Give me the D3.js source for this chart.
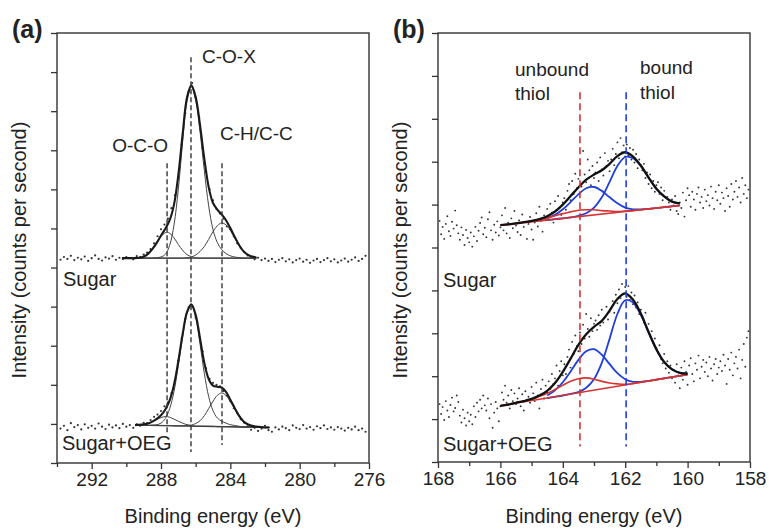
<!doctype html>
<html>
<head>
<meta charset="utf-8">
<title>XPS C 1s and S 2p spectra</title>
<script src="https://cdn.jsdelivr.net/npm/d3@7"></script>
<style>
  body { margin: 0; background: #fff; }
  svg text { font-family: "Liberation Sans", Arial, sans-serif; fill: #222; }
</style>
</head>
<body>
<div id="chart"></div>
<script>
// ---------- panel (a): C 1s ----------
var c1sTicks = [292, 288, 284, 280, 276];
var c1sMinorTicks = [294, 290, 286, 282, 278];
var c1sYTicks = [0, 1, 2, 3, 4, 5, 6, 7, 8, 9, 10, 11];

// measured points, 293.8 eV down to 276.2 eV, 0.2 eV step
var c1sDotStart = 293.8, c1sDotStep = 0.2;
var c1sSugarDots = [5.20,5.27,5.22,5.30,5.19,5.25,5.21,5.28,5.17,5.24,
  5.31,5.22,5.18,5.26,5.23,5.29,5.20,5.25,5.22,5.27,
  5.24,5.21,5.29,5.27,5.33,5.38,5.47,5.62,5.80,5.98,
  6.10,6.25,6.52,6.85,7.30,8.15,8.95,9.50,9.72,9.35,
  8.85,8.05,7.45,7.00,6.72,6.50,6.38,6.25,6.05,5.98,
  5.80,5.62,5.50,5.40,5.31,5.27,5.21,5.25,5.19,5.23,
  5.17,5.22,5.14,5.20,5.24,5.16,5.21,5.13,5.19,5.23,
  5.15,5.20,5.12,5.18,5.22,5.14,5.19,5.24,5.16,5.21,
  5.13,5.18,5.23,5.15,5.20,5.26,5.17,5.22,5.30];
var c1sOegDots = [0.88,0.95,0.84,1.02,0.92,0.97,0.86,0.99,0.90,0.95,
  0.88,1.01,0.93,0.87,0.98,0.91,0.96,0.89,1.00,0.93,
  0.97,0.90,0.99,0.95,1.03,1.02,1.10,1.18,1.24,1.33,
  1.45,1.55,1.78,2.10,2.62,3.18,3.68,3.98,4.00,3.72,
  3.30,2.85,2.42,2.15,2.05,2.00,1.96,1.84,1.72,1.58,
  1.40,1.28,1.12,1.03,0.94,0.85,0.90,0.82,0.88,0.95,
  0.84,0.80,0.91,0.86,0.93,0.89,0.84,0.96,0.90,0.87,
  0.97,0.88,0.92,0.85,0.94,0.89,0.96,0.87,0.91,0.85,
  0.92,0.88,0.83,0.90,0.86,0.93,0.84,0.88,0.80];

// fitted curves, 0.25 eV step
var c1sSugarFitStart = 290.25;
var c1sSugarOCO = [5.24,5.24,5.24,5.24,5.25,5.28,5.35,5.47,5.63,5.79,5.89,5.88,5.76,5.59,5.44,5.33,5.28,5.25,
  5.24,5.24,5.24,5.24,5.24,5.24,5.24,5.24,5.24,5.24,5.24,5.24,5.24,5.24];
var c1sSugarCOX = [5.24,5.24,5.24,5.24,5.24,5.24,5.24,5.24,5.25,5.27,5.34,5.57,6.09,7.01,8.22,9.25,9.62,9.28,
  8.48,7.48,6.58,5.97,5.64,5.46,5.36,5.30,5.27,5.25,5.24,5.24,5.24,5.24];
var c1sSugarCH = [5.24,5.24,5.24,5.24,5.24,5.24,5.24,5.24,5.24,5.24,5.24,5.24,5.24,5.24,5.24,5.25,5.27,5.32,
  5.41,5.54,5.72,5.92,6.07,6.14,6.09,5.95,5.75,5.57,5.42,5.33,5.28,5.26];
var c1sSugarEnv = [5.24,5.24,5.24,5.24,5.25,5.28,5.35,5.47,5.63,5.82,5.99,6.21,6.61,7.37,8.42,9.35,9.66,9.36,
  8.65,7.78,7.06,6.65,6.48,6.36,6.21,6.01,5.79,5.58,5.42,5.33,5.28,5.26];
var c1sSugarBase = [[290.25, 5.24], [282.5, 5.24]];

var c1sOegFitStart = 289.5;
var c1sOegOCO = [0.97,0.98,0.99,1.01,1.06,1.11,1.16,1.19,1.17,1.12,1.07,1.02,0.98,0.96,0.94,0.94,0.94,0.94,
  0.94,0.93,0.93,0.93,0.93,0.93,0.92,0.92,0.92,0.92,0.92,0.92,0.91,0.91];
var c1sOegCOX = [0.97,0.97,0.97,0.96,0.97,0.98,1.02,1.14,1.39,1.83,2.49,3.23,3.82,4.02,3.72,3.05,2.29,1.70,
  1.34,1.15,1.07,1.02,0.98,0.96,0.94,0.92,0.92,0.92,0.92,0.92,0.91,0.91];
var c1sOegCH = [0.97,0.97,0.97,0.96,0.96,0.96,0.96,0.96,0.96,0.95,0.95,0.95,0.96,0.97,1.01,1.08,1.21,1.39,
  1.58,1.73,1.79,1.73,1.57,1.38,1.19,1.06,0.99,0.95,0.93,0.92,0.91,0.91];
var c1sOegEnv = [0.97,0.98,0.99,1.01,1.06,1.13,1.22,1.37,1.60,2.00,2.61,3.30,3.86,4.06,3.79,3.19,2.56,2.15,
  1.98,1.95,1.93,1.82,1.62,1.41,1.21,1.07,0.99,0.95,0.93,0.92,0.91,0.91];
var c1sOegBase = [[289.5, 0.97], [281.75, 0.91]];

var c1sPeakNames = ['O-C-O', 'C-O-X', 'C-H/C-C'];
var c1sPeakEnergy = [287.65, 286.27, 284.48];
var c1sMarkTop = [7.67, 10.38, 7.67];
var c1sMarkBottom = [0.77, 0.28, 0.46];

// ---------- panel (b): S 2p ----------
var s2pTicks = [168, 166, 164, 162, 160, 158];
var s2pMinorTicks = [167, 165, 163, 161, 159];
var s2pYTicks = [0, 1, 2, 3, 4, 5, 6, 7, 8, 9, 10];

// measured points, 167.95 eV down to 158.05 eV, 0.05 eV step
var s2pDotStart = 167.95, s2pDotStep = 0.05;
var s2pSugarDots = [5.62,5.31,5.48,5.20,5.55,5.73,5.38,5.27,5.60,5.44,
  5.86,5.52,5.33,5.18,5.47,5.29,5.06,5.41,5.22,5.12,
  5.35,5.02,5.26,5.48,5.15,5.39,5.57,5.70,5.31,5.46,
  5.24,5.66,5.82,5.40,5.18,5.53,5.35,5.61,5.28,5.47,
  5.75,5.40,5.92,5.33,5.58,5.22,5.68,5.45,5.85,5.51,
  5.36,5.63,5.29,5.77,5.48,5.60,5.20,5.55,5.71,5.42,
  5.18,5.58,5.80,5.49,5.95,5.62,5.37,5.75,5.66,5.90,
  5.70,6.02,5.81,5.58,6.08,5.87,6.20,5.93,5.76,6.05,
  6.15,5.88,6.32,6.48,6.10,6.55,6.25,6.72,6.38,6.60,
  6.95,6.42,7.25,6.70,6.52,7.05,6.80,6.45,6.90,6.62,
  6.75,6.98,6.55,7.10,6.82,6.68,7.20,6.90,7.02,6.78,
  7.05,7.30,6.92,7.18,7.45,7.08,7.55,7.22,7.38,7.12,
  7.40,7.15,7.32,7.05,7.28,6.98,7.18,6.85,7.05,6.92,
  6.80,6.95,6.62,6.75,6.48,6.70,6.38,6.55,6.30,6.45,
  6.52,6.25,6.40,6.10,6.32,5.95,6.18,6.05,5.88,6.12,
  5.98,6.20,5.85,5.78,6.05,5.92,6.28,5.72,6.10,6.38,
  6.22,5.95,6.30,6.12,5.88,6.25,6.40,6.05,6.18,5.92,
  6.35,6.08,6.22,5.98,6.42,6.15,5.90,6.30,6.10,6.45,
  6.02,6.28,6.15,5.85,6.38,6.20,5.95,6.48,6.12,6.30,
  6.55,6.18,6.40,6.05,6.62,6.25,6.45,6.15,6.35];
var s2pOegDots = [1.35,1.12,1.28,0.98,1.42,1.20,1.05,1.33,1.50,1.18,
  1.26,1.55,1.40,1.08,0.92,1.22,1.02,0.85,1.15,0.95,
  1.10,0.88,1.30,1.05,1.38,1.18,1.45,1.25,1.55,1.32,
  1.20,1.48,1.02,1.35,0.80,1.15,1.40,1.25,0.95,1.30,
  1.62,1.45,1.78,1.38,1.55,1.25,1.68,1.42,1.60,1.35,
  1.48,1.72,1.30,1.58,1.20,1.65,1.45,1.52,1.38,1.75,
  1.60,1.42,1.85,1.55,1.25,1.70,1.92,1.48,1.78,1.62,
  1.88,1.70,2.05,1.82,1.95,2.25,1.78,2.12,2.35,2.02,
  2.28,2.05,2.45,2.62,2.20,2.80,2.52,2.95,2.70,2.58,
  3.02,2.75,3.20,2.88,3.45,3.10,2.92,3.35,3.05,3.22,
  3.30,3.08,3.42,3.18,3.55,3.25,3.38,3.62,3.32,3.50,
  3.58,3.75,3.48,3.90,3.70,4.02,3.82,4.15,3.92,4.08,
  3.85,4.10,3.78,3.95,3.68,3.88,3.60,3.72,3.45,3.55,
  3.40,3.25,3.48,3.10,3.22,2.95,3.05,2.78,2.88,2.65,
  2.55,2.72,2.40,2.30,2.52,2.18,2.35,2.08,2.25,1.95,
  2.15,1.85,2.28,2.02,1.72,2.20,1.92,2.35,2.10,1.80,
  2.25,2.42,2.05,1.88,2.30,2.15,2.48,1.95,2.22,2.38,
  2.10,2.32,2.00,2.45,2.18,1.90,2.28,2.40,2.05,2.20,
  2.35,2.12,2.50,2.25,1.82,2.40,2.15,2.55,2.02,2.30,
  2.45,2.18,2.62,1.95,2.38,2.75,2.22,2.90,3.05];

// fitted curves from 166.0 eV, 0.25 eV step (null = not drawn)
var s2pFitStart = 166.0;
var s2pSugarEnv = [5.52,5.54,5.56,5.59,5.62,5.66,5.73,5.84,6.00,6.20,6.40,6.58,6.70,6.80,6.95,7.13,7.22,7.12,
  6.91,6.63,6.37,6.19,6.07,6.03];
var s2pSugarBound = [null,null,null,null,null,null,5.64,5.66,5.68,5.70,5.74,5.80,5.93,6.17,6.53,6.90,7.11,7.08,
  6.90,6.63,6.37,6.19,6.07,6.03];
var s2pSugarBound2 = [null,null,null,null,null,null,5.68,5.76,5.89,6.06,6.24,6.38,6.41,6.32,6.17,6.03,5.93,5.89,
  5.89,5.90,5.92,5.94,5.96,5.98];
var s2pSugarUnbound = [5.52,5.54,5.56,5.59,5.62,5.65,5.69,5.74,5.79,5.83,5.87,5.88,5.88,5.86,5.85,5.84,5.85,5.86,
  5.88,5.90,5.92,5.94,5.96,5.98];
var s2pSugarBase = [[166.0, 5.52], [160.25, 5.98]];

var s2pOegEnv = [1.31,1.34,1.38,1.42,1.47,1.55,1.66,1.84,2.10,2.41,2.73,2.98,3.15,3.29,3.53,3.80,3.93,3.78,
  3.46,3.03,2.63,2.33,2.16,2.08,2.06];
var s2pOegBound = [null,null,null,null,null,null,1.49,1.52,1.55,1.59,1.63,1.73,1.93,2.31,2.87,3.45,3.77,3.72,
  3.43,3.02,2.62,2.33,2.16,2.08,2.06];
var s2pOegBound2 = [null,null,null,null,null,null,1.55,1.67,1.86,2.11,2.38,2.58,2.63,2.50,2.28,2.07,1.93,1.87,
  1.87,1.89,1.92,1.95,1.98,2.01,2.04];
var s2pOegUnbound = [1.31,1.34,1.38,1.42,1.46,1.53,1.60,1.69,1.79,1.88,1.94,1.96,1.93,1.88,1.84,1.82,1.81,1.83,
  1.86,1.89,1.92,1.95,1.98,2.01,2.04];
var s2pOegBase = [[166.0, 1.31], [160.0, 2.04]];

var s2pMarkEnergy = [163.45, 161.97];
var s2pMarkTop = 8.62, s2pMarkBottom = 0.36;

// ---------- drawing ----------
var svg = d3.select('#chart').append('svg')
    .attr('width', 769).attr('height', 529)
    .style('background', '#fff');

function pairs(start, step, vals) {
    return vals.map(function (v, i) { return [start - i * step, v]; });
}

function makePanel(o) {
    var x = d3.scaleLinear().domain(o.xDomain).range([o.left, o.right]);
    var y = d3.scaleLinear().domain(o.yDomain).range([o.bottom, o.top]);
    var g = svg.append('g');

    // x ticks, major with labels and minor without
    var xa = g.append('g').attr('transform', 'translate(0,' + o.bottom + ')')
        .call(d3.axisBottom(x).tickValues(o.ticks).tickSize(6).tickSizeOuter(0).tickPadding(4));
    var xm = g.append('g').attr('transform', 'translate(0,' + o.bottom + ')')
        .call(d3.axisBottom(x).tickValues(o.minor).tickSize(4).tickSizeOuter(0).tickFormat(''));
    var ya = g.append('g').attr('transform', 'translate(' + o.left + ',0)')
        .call(d3.axisLeft(y).tickValues(o.yTicks).tickSize(6).tickSizeOuter(0).tickFormat(''));
    [xa, xm, ya].forEach(function (a) {
        a.select('.domain').remove();
        a.selectAll('line').attr('stroke', '#333').attr('stroke-width', 1.3);
    });
    xa.selectAll('text').style('font-size', '19px').attr('fill', '#222');

    g.append('rect')
        .attr('x', o.left).attr('y', o.top)
        .attr('width', o.right - o.left).attr('height', o.bottom - o.top)
        .attr('fill', 'none').attr('stroke', '#333').attr('stroke-width', 1.4);

    g.append('text')
        .attr('x', (o.left + o.right) / 2).attr('y', 523)
        .attr('text-anchor', 'middle').style('font-size', '20px')
        .text('Binding energy (eV)');
    g.append('text')
        .attr('transform', 'translate(' + (o.left - 31) + ',250) rotate(-90)')
        .attr('text-anchor', 'middle').style('font-size', '20px')
        .text('Intensity (counts per second)');
    g.append('text')
        .attr('x', o.left - 45).attr('y', 38)
        .style('font-size', '25px').style('font-weight', 'bold')
        .text(o.tag);

    return { x: x, y: y, g: g };
}

function smooth(p) {
    return d3.line()
        .defined(function (d) { return d[1] != null; })
        .x(function (d) { return p.x(d[0]); })
        .y(function (d) { return p.y(d[1]); })
        .curve(d3.curveCatmullRom.alpha(0.5));
}

function straight(p) {
    return d3.line()
        .x(function (d) { return p.x(d[0]); })
        .y(function (d) { return p.y(d[1]); });
}

function dots(p, start, step, vals, r) {
    p.g.append('g').selectAll('circle')
        .data(pairs(start, step, vals))
        .enter().append('circle')
        .attr('cx', function (d) { return p.x(d[0]); })
        .attr('cy', function (d) { return p.y(d[1]); })
        .attr('r', r)
        .attr('fill', '#333');
}

function curve(p, gen, data, color, width) {
    p.g.append('path').datum(data)
        .attr('d', gen)
        .attr('fill', 'none')
        .attr('stroke', color)
        .attr('stroke-width', width)
        .attr('stroke-linejoin', 'round');
}

// panel (a)
var pa = makePanel({ xDomain: [294, 276], yDomain: [0, 11], left: 57, right: 369, top: 33, bottom: 463,
    ticks: c1sTicks, minor: c1sMinorTicks, yTicks: c1sYTicks, tag: '(a)' });
var sa = smooth(pa), la = straight(pa);

dots(pa, c1sDotStart, c1sDotStep, c1sSugarDots, 1.1);
dots(pa, c1sDotStart, c1sDotStep, c1sOegDots, 1.1);

curve(pa, la, c1sSugarBase, '#333', 1.4);
curve(pa, la, c1sOegBase, '#333', 1.4);
[c1sSugarOCO, c1sSugarCOX, c1sSugarCH].forEach(function (s) {
    curve(pa, sa, pairs(c1sSugarFitStart, 0.25, s), '#444', 1);
});
[c1sOegOCO, c1sOegCOX, c1sOegCH].forEach(function (s) {
    curve(pa, sa, pairs(c1sOegFitStart, 0.25, s), '#444', 1);
});
curve(pa, sa, pairs(c1sSugarFitStart, 0.25, c1sSugarEnv), '#1a1a1a', 2.1);
curve(pa, sa, pairs(c1sOegFitStart, 0.25, c1sOegEnv), '#1a1a1a', 2.1);

c1sPeakEnergy.forEach(function (e, i) {
    pa.g.append('line')
        .attr('x1', pa.x(e)).attr('x2', pa.x(e))
        .attr('y1', pa.y(c1sMarkTop[i])).attr('y2', pa.y(c1sMarkBottom[i]))
        .attr('stroke', '#333').attr('stroke-width', 1.4)
        .attr('stroke-dasharray', '5,3');
});

pa.g.append('text').attr('x', pa.x(c1sPeakEnergy[0]) + 1).attr('y', pa.y(7.95))
    .attr('text-anchor', 'end').style('font-size', '19px').text(c1sPeakNames[0]);
pa.g.append('text').attr('x', pa.x(c1sPeakEnergy[1]) + 11).attr('y', pa.y(10.23))
    .style('font-size', '19px').text(c1sPeakNames[1]);
pa.g.append('text').attr('x', pa.x(c1sPeakEnergy[2]) - 2).attr('y', pa.y(8.26))
    .style('font-size', '19px').text(c1sPeakNames[2]);

pa.g.append('text').attr('x', 63).attr('y', 286).style('font-size', '20px').text('Sugar');
pa.g.append('text').attr('x', 62).attr('y', 450).style('font-size', '20px').text('Sugar+OEG');

// panel (b)
var pb = makePanel({ xDomain: [168, 158], yDomain: [0, 10], left: 438, right: 750, top: 33, bottom: 462,
    ticks: s2pTicks, minor: s2pMinorTicks, yTicks: s2pYTicks, tag: '(b)' });
var sb = smooth(pb), lb = straight(pb);

dots(pb, s2pDotStart, s2pDotStep, s2pSugarDots, 0.95);
dots(pb, s2pDotStart, s2pDotStep, s2pOegDots, 0.95);

var blue = '#1f3fdc', red = '#d63232';
[[s2pSugarBound, s2pSugarBound2], [s2pOegBound, s2pOegBound2]].forEach(function (pair) {
    pair.forEach(function (s) { curve(pb, sb, pairs(s2pFitStart, 0.25, s), blue, 1.8); });
});
curve(pb, lb, s2pSugarBase, red, 1.6);
curve(pb, lb, s2pOegBase, red, 1.6);
curve(pb, sb, pairs(s2pFitStart, 0.25, s2pSugarUnbound), red, 1.6);
curve(pb, sb, pairs(s2pFitStart, 0.25, s2pOegUnbound), red, 1.6);
curve(pb, sb, pairs(s2pFitStart, 0.25, s2pSugarEnv), '#111', 2.3);
curve(pb, sb, pairs(s2pFitStart, 0.25, s2pOegEnv), '#111', 2.3);

[red, blue].forEach(function (c, i) {
    pb.g.append('line')
        .attr('x1', pb.x(s2pMarkEnergy[i])).attr('x2', pb.x(s2pMarkEnergy[i]))
        .attr('y1', pb.y(s2pMarkTop)).attr('y2', pb.y(s2pMarkBottom))
        .attr('stroke', c).attr('stroke-width', 1.6)
        .attr('stroke-dasharray', '7,4');
});

pb.g.append('text').attr('x', 515).attr('y', 76).style('font-size', '19px').text('unbound');
pb.g.append('text').attr('x', 515).attr('y', 100).style('font-size', '19px').text('thiol');
pb.g.append('text').attr('x', 640).attr('y', 74).style('font-size', '19px').text('bound');
pb.g.append('text').attr('x', 640).attr('y', 99).style('font-size', '19px').text('thiol');

pb.g.append('text').attr('x', 443).attr('y', 287).style('font-size', '20px').text('Sugar');
pb.g.append('text').attr('x', 443).attr('y', 451).style('font-size', '20px').text('Sugar+OEG');
</script>
</body>
</html>
